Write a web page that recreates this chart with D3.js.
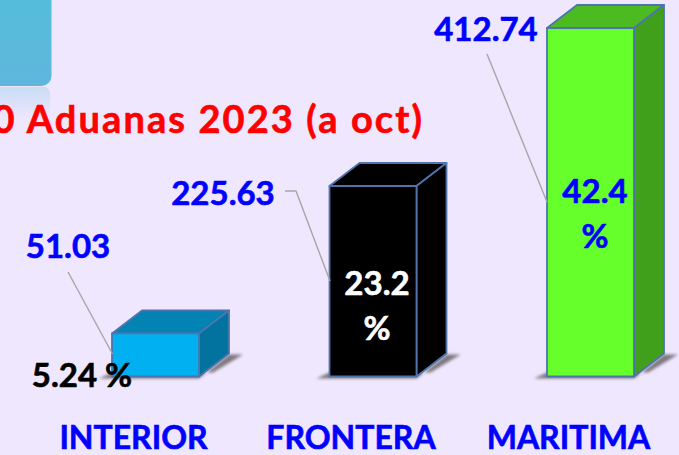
<!DOCTYPE html>
<html>
<head>
<meta charset="utf-8">
<script src="https://cdn.jsdelivr.net/npm/d3@7"></script>
<style>
  html, body { margin: 0; padding: 0; background: #efe7fe; overflow: hidden; }
  svg { display: block; }
  text { font-family: Lato, "Open Sans", sans-serif; font-weight: 700; stroke-width: 0.6; paint-order: stroke; }
</style>
</head>
<body>
<div id="chart"></div>
<script>
const categories = ["INTERIOR", "FRONTERA", "MARITIMA"]
const values = [51.03, 225.63, 412.74]
const valueLabels = ["51.03", "225.63", "412.74"]
const percents = [["5.24 %"], ["23.2", "%"], ["42.4", "%"]]
const titleText = "0 Aduanas 2023 (a oct)"

const width = 679, height = 455
const depthX = 30, depthY = 23

const frontColors = ["#00b0f0", "#000000", "#66ff2b"]
const topColors = ["#0283b3", "#000000", "#4cbb22"]
const sideColors = ["#01739e", "#000000", "#40a01c"]
const percentColors = ["#000000", "#ffffff", "#0000ff"]

// label placement
const valuePos = [[68, 258], [223, 205], [486, 41]]
const percentPos = [[82, 387], [377, 295], [595, 203]]
const percentGap = 45
const leaders = [
  [[68, 272], [112.5, 354]],
  [[285, 191], [296, 191], [330, 281]],
  [[487, 54], [547, 202]]
]

const svg = d3.select("#chart").append("svg")
    .attr("width", width).attr("height", height)
    .attr("viewBox", [0, 0, width, height])

const defs = svg.append("defs")
defs.append("filter").attr("id", "soft")
    .attr("x", "-20%").attr("y", "-40%").attr("width", "140%").attr("height", "180%")
    .append("feGaussianBlur").attr("stdDeviation", 1.6)

const boxGrad = defs.append("linearGradient").attr("id", "boxGrad")
    .attr("x1", 0).attr("y1", 0).attr("x2", 0).attr("y2", 1)
boxGrad.append("stop").attr("offset", 0).attr("stop-color", "#52bfdc")
boxGrad.append("stop").attr("offset", 1).attr("stop-color", "#60b6dc")

const reflectGrad = defs.append("linearGradient").attr("id", "reflectGrad")
    .attr("x1", 0).attr("y1", 0).attr("x2", 0).attr("y2", 1)
reflectGrad.append("stop").attr("offset", 0).attr("stop-color", "#c8dcf5")
reflectGrad.append("stop").attr("offset", 1).attr("stop-color", "#efe7fe")

// teal box cut off in the corner, with its reflection
svg.append("rect").attr("x", -20).attr("y", 87).attr("width", 70).attr("height", 32)
    .attr("rx", 6).attr("fill", "url(#reflectGrad)")
svg.append("rect").attr("x", -20).attr("y", -20).attr("width", 71.5).attr("height", 106)
    .attr("rx", 10).attr("fill", "url(#boxGrad)")

svg.append("text").attr("x", 424).attr("y", 133)
    .attr("text-anchor", "end").attr("font-size", 38).attr("fill", "#ff0000").attr("stroke", "#ff0000")
    .attr("letter-spacing", 2.1)
    .text(titleText)

const x = d3.scaleBand().domain(categories).range([112, 634]).paddingInner(0.6).paddingOuter(0)
const y = d3.scaleLinear().domain([0, d3.max(values)]).range([376.5, 28])

const poly = pts => pts.map(p => p.join(",")).join(" ")

const bars = svg.append("g").selectAll("g")
    .data(categories)
    .join("g")

// floor shadow
bars.append("polygon")
    .attr("points", d => {
      const x0 = x(d), x1 = x0 + x.bandwidth(), b = y(0)
      return poly([[x0 - 13, b + 2], [x1, b + 2], [x1 + depthX, b - depthY + 1], [x1 + depthX + 14, b - depthY + 1], [x1 + 14, b - 4], [x0, b - 4]])
    })
    .attr("fill", "#7d787f")
    .attr("filter", "url(#soft)")

const faceStroke = { stroke: "#4f74ad", width: 1.8 }

bars.append("polygon")   // top face
    .attr("points", d => {
      const x0 = x(d), x1 = x0 + x.bandwidth(), t = y(values[categories.indexOf(d)])
      return poly([[x0, t], [x0 + depthX, t - depthY], [x1 + depthX, t - depthY], [x1, t]])
    })
    .attr("fill", d => topColors[categories.indexOf(d)])

bars.append("polygon")   // side face
    .attr("points", d => {
      const x1 = x(d) + x.bandwidth(), t = y(values[categories.indexOf(d)]), b = y(0)
      return poly([[x1, t], [x1 + depthX, t - depthY], [x1 + depthX, b - depthY], [x1, b]])
    })
    .attr("fill", d => sideColors[categories.indexOf(d)])

bars.append("rect")      // front face
    .attr("x", d => x(d))
    .attr("y", d => y(values[categories.indexOf(d)]))
    .attr("width", x.bandwidth())
    .attr("height", d => y(0) - y(values[categories.indexOf(d)]))
    .attr("fill", d => frontColors[categories.indexOf(d)])

bars.selectAll("polygon:not([filter]), rect")
    .attr("stroke", faceStroke.stroke)
    .attr("stroke-width", faceStroke.width)
    .attr("stroke-linejoin", "round")

const line = d3.line()
svg.append("g").selectAll("path")
    .data(leaders)
    .join("path")
    .attr("d", line)
    .attr("fill", "none")
    .attr("stroke", "#a6a6a6")
    .attr("stroke-width", 1.4)

svg.append("g").selectAll("text")
    .data(valueLabels)
    .join("text")
    .attr("x", (d, i) => valuePos[i][0])
    .attr("y", (d, i) => valuePos[i][1])
    .attr("text-anchor", "middle")
    .attr("font-size", 33)
    .attr("fill", "#0000ff")
    .attr("stroke", "#0000ff")
    .text(d => d)

percents.forEach((lines, i) => {
  lines.forEach((t, j) => {
    svg.append("text")
        .attr("x", percentPos[i][0])
        .attr("y", percentPos[i][1] + j * percentGap)
        .attr("text-anchor", "middle")
        .attr("font-size", 33)
        .attr("fill", percentColors[i])
        .attr("stroke", percentColors[i])
        .text(t)
  })
})

const axis = svg.append("g")
    .call(d3.axisBottom(x).tickSize(0))
axis.attr("transform", `translate(-22,${y(0) + 47})`)
axis.select(".domain").remove()
axis.selectAll("text")
    .attr("font-size", 32)
    .attr("fill", "#0000ff")
    .attr("stroke", "#0000ff")
    .attr("font-family", null)
</script>
</body>
</html>
